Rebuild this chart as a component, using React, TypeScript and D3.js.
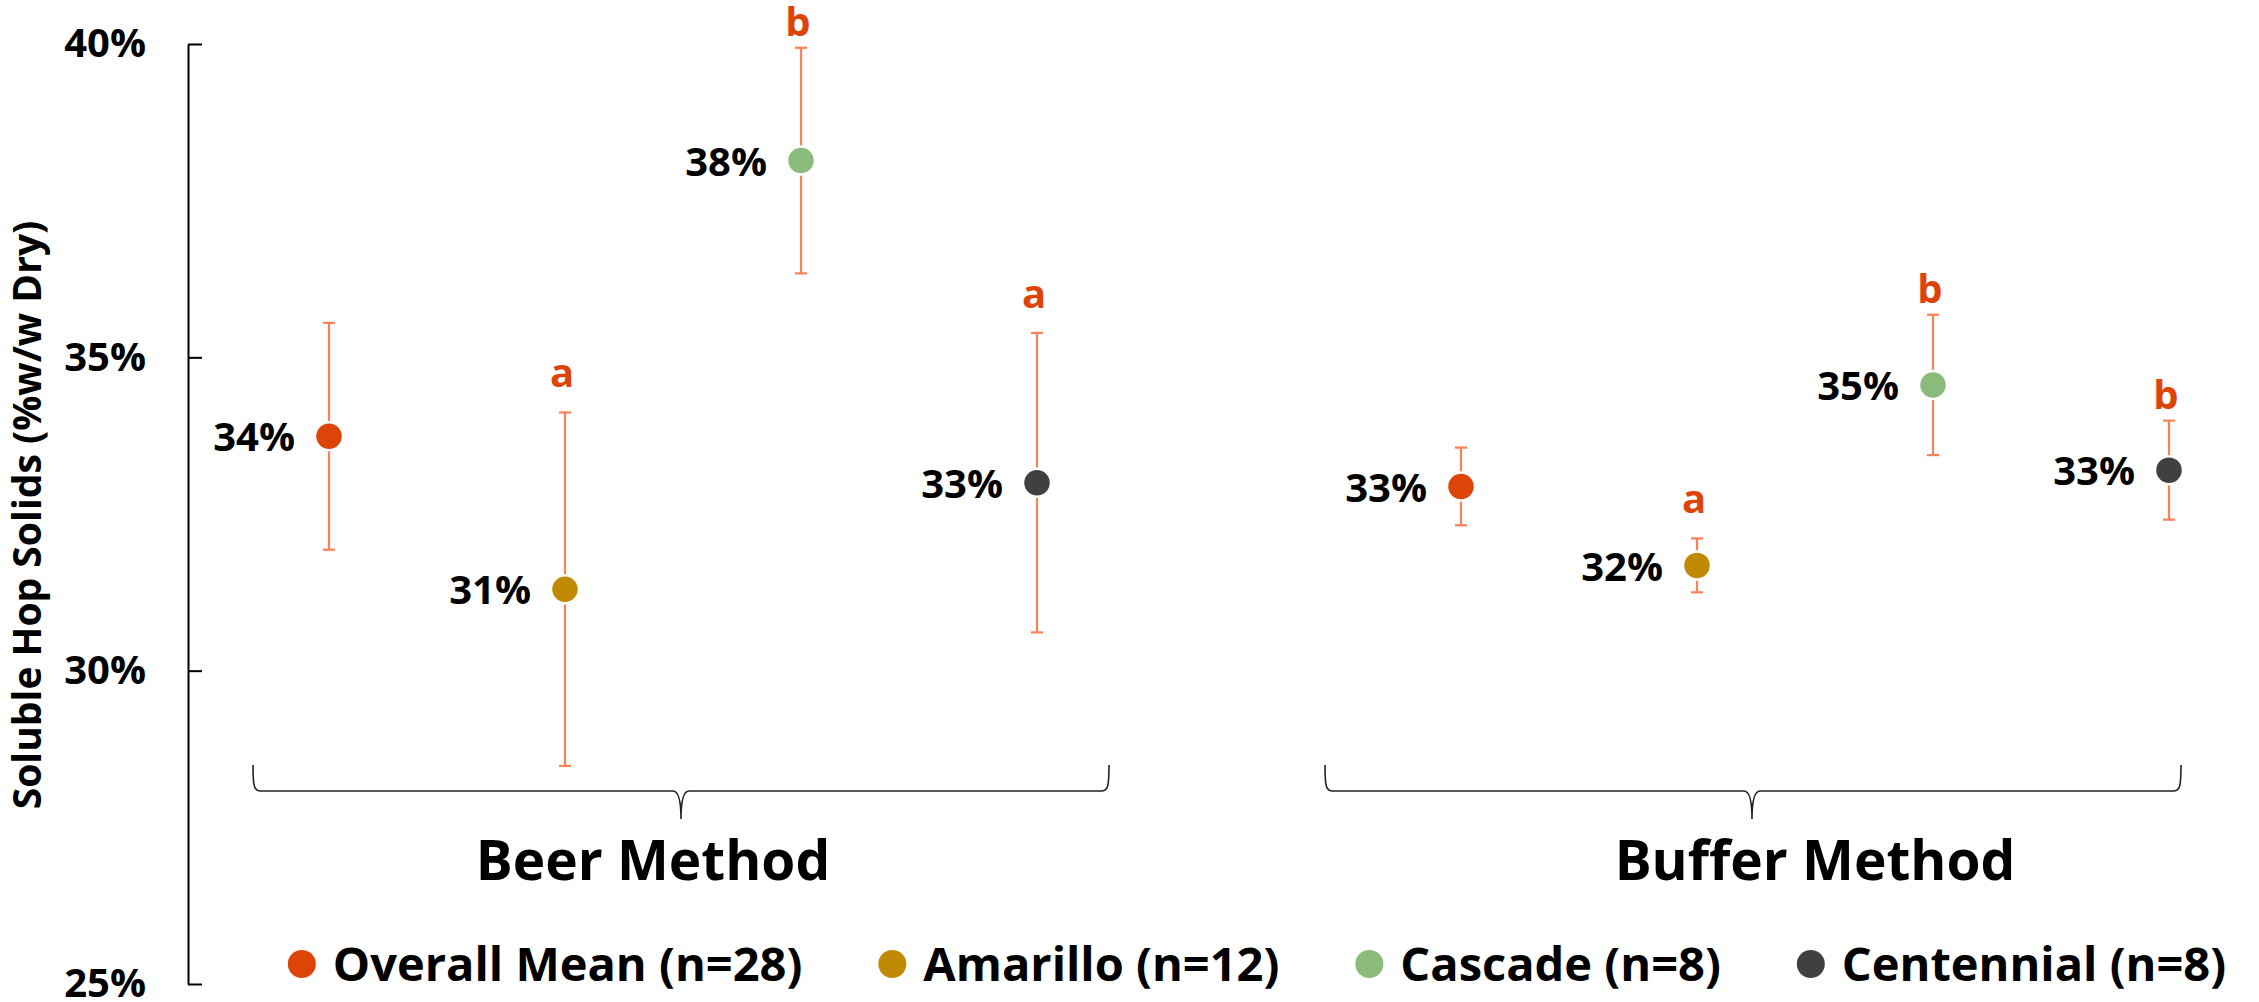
import React, { useEffect, useRef } from "react";
import * as d3 from "d3";

const groups = ["Beer Method", "Buffer Method"];
const seriesNames = ["Overall Mean", "Amarillo", "Cascade", "Centennial"];
const seriesN = [28, 12, 8, 8];
const beerMeans = [33.74, 31.3, 38.14, 33.0];
const beerErrors = [1.81, 2.82, 1.8, 2.39];
const beerLetters = ["", "a", "b", "a"];
const bufferMeans = [32.94, 31.68, 34.56, 33.2];
const bufferErrors = [0.62, 0.43, 1.12, 0.79];
const bufferLetters = ["", "a", "b", "b"];
const yTicks = [25, 30, 35, 40];

const colors = ["#DD4408", "#C08A05", "#8BBB7B", "#404040"];
const errColor = "#FF8054";
const letterColor = "#DD4408";
const FONT = "'Open Sans', 'Noto Sans', sans-serif";

const W = 2259;
const H = 1002;

export default function App() {
  const svgRef = useRef<SVGSVGElement | null>(null);

  useEffect(() => {
    const svg = d3.select(svgRef.current);
    svg.selectAll("*").remove();

    const y = d3.scaleLinear().domain([25, 40]).range([984, 44]);
    const xGroup = d3.scalePoint<string>().domain(groups).range([683, 1815]);
    const xInner = d3.scalePoint<string>().domain(seriesNames).range([-354, 354]);

    const rows = [
      ...seriesNames.map((s, i) => ({ group: groups[0], series: s, i, mean: beerMeans[i], err: beerErrors[i], letter: beerLetters[i] })),
      ...seriesNames.map((s, i) => ({ group: groups[1], series: s, i, mean: bufferMeans[i], err: bufferErrors[i], letter: bufferLetters[i] })),
    ];
    const xOf = (d: any) => (xGroup(d.group) as number) + (xInner(d.series) as number);

    // y axis, ticks pointing inward
    const axis = d3
      .axisLeft(y)
      .tickValues(yTicks)
      .tickFormat((d) => `${d}%`)
      .tickSizeInner(-14)
      .tickSizeOuter(0)
      .tickPadding(42);
    const ga = svg.append("g").attr("transform", "translate(188,0)").call(axis as any);
    ga.select(".domain").attr("stroke", "#000").attr("stroke-width", 2);
    ga.selectAll(".tick line").attr("stroke", "#000").attr("stroke-width", 2);
    ga.selectAll(".tick text")
      .attr("font-family", FONT)
      .attr("font-weight", 700)
      .attr("font-size", 40)
      .attr("fill", "#000");

    svg
      .append("text")
      .attr("transform", "translate(41,515) rotate(-90)")
      .attr("text-anchor", "middle")
      .attr("font-family", FONT)
      .attr("font-weight", 700)
      .attr("font-size", 39)
      .text("Soluble Hop Solids (%w/w Dry)");

    // error bars
    const eb = svg.append("g").attr("stroke", errColor).attr("stroke-width", 2.2);
    rows.forEach((d) => {
      const x = xOf(d);
      const y1 = y(d.mean + d.err);
      const y2 = y(d.mean - d.err);
      eb.append("line").attr("x1", x).attr("x2", x).attr("y1", y1).attr("y2", y2);
      eb.append("line").attr("x1", x - 6).attr("x2", x + 6).attr("y1", y1).attr("y2", y1);
      eb.append("line").attr("x1", x - 6).attr("x2", x + 6).attr("y1", y2).attr("y2", y2);
    });

    // markers
    svg
      .append("g")
      .selectAll("circle")
      .data(rows)
      .join("circle")
      .attr("cx", xOf)
      .attr("cy", (d) => y(d.mean))
      .attr("r", 14)
      .attr("fill", (d) => colors[d.i])
      .attr("stroke", "#fff")
      .attr("stroke-width", 2.5);

    // value labels
    svg
      .append("g")
      .selectAll("text")
      .data(rows)
      .join("text")
      .attr("x", (d) => xOf(d) - 34)
      .attr("y", (d) => y(d.mean))
      .attr("dy", "0.38em")
      .attr("text-anchor", "end")
      .attr("font-family", FONT)
      .attr("font-weight", 700)
      .attr("font-size", 40)
      .text((d) => `${Math.round(d.mean)}%`);

    // significance letters
    svg
      .append("g")
      .selectAll("text")
      .data(rows.filter((d) => d.letter))
      .join("text")
      .attr("x", (d) => xOf(d) - 3)
      .attr("y", (d) => y(d.mean + d.err) - (d.letter === "b" ? 12 : 25))
      .attr("text-anchor", "middle")
      .attr("font-family", FONT)
      .attr("font-weight", 700)
      .attr("font-size", 40)
      .attr("fill", letterColor)
      .text((d) => d.letter);

    // group braces
    const braces = [
      { group: groups[0], left: -430, right: 426, cusp: -2, label: -30 },
      { group: groups[1], left: -490, right: 366, cusp: -63, label: 0 },
    ];
    const yT = 765, yM = 791, yB = 819;
    braces.forEach((b) => {
      const cx = xGroup(b.group) as number;
      const L = cx + b.left, R = cx + b.right, C = cx + b.cusp;
      const p = d3.path();
      p.moveTo(L, yT);
      p.bezierCurveTo(L, yM - 4, L + 1, yM, L + 8, yM);
      p.lineTo(C - 8, yM);
      p.quadraticCurveTo(C, yM, C, yB);
      p.quadraticCurveTo(C, yM, C + 8, yM);
      p.lineTo(R - 8, yM);
      p.bezierCurveTo(R - 1, yM, R, yM - 4, R, yT);
      svg.append("path").attr("d", p.toString()).attr("fill", "none").attr("stroke", "#222").attr("stroke-width", 1.6);
      svg
        .append("text")
        .attr("x", cx + b.label)
        .attr("y", 880)
        .attr("text-anchor", "middle")
        .attr("font-family", FONT)
        .attr("font-weight", 700)
        .attr("font-size", 55)
        .text(b.group);
    });

    // legend
    const lg = svg.append("g");
    const items = seriesNames.map((s, i) => {
      const g = lg.append("g");
      g.append("circle").attr("cx", 0).attr("cy", 964).attr("r", 14).attr("fill", colors[i]);
      const t = g
        .append("text")
        .attr("x", 31)
        .attr("y", 964)
        .attr("dy", "0.36em")
        .attr("font-family", FONT)
        .attr("font-weight", 700)
        .attr("font-size", 47)
        .text(`${s} (n=${seriesN[i]})`);
      const w = (t.node() as SVGTextElement).getComputedTextLength();
      return { g, w };
    });
    let cursor = 0;
    const starts: number[] = [];
    items.forEach((it) => {
      starts.push(cursor);
      cursor += 31 + it.w + 90;
    });
    const total = cursor - 90 + 14;
    const x0 = 1257 - total / 2 + 14;
    items.forEach((it, i) => it.g.attr("transform", `translate(${x0 + starts[i]},0)`));
  }, []);

  return (
    <svg
      ref={svgRef}
      width={W}
      height={H}
      style={{ position: "absolute", left: 0, top: 0, background: "#fff" }}
    />
  );
}
